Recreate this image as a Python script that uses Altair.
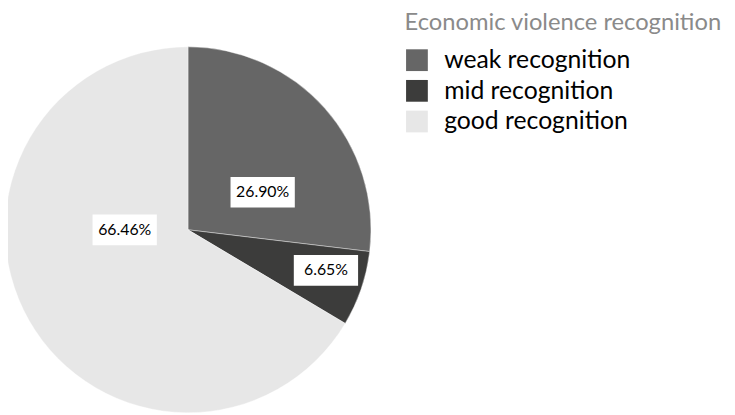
import altair as alt
import pandas as pd

# ---- data ----
categories = ["weak recognition", "mid recognition", "good recognition"]
values = [26.90, 6.65, 66.46]
labels = ["26.90%", "6.65%", "66.46%"]
colors = ["#666666", "#3c3c3b", "#e7e7e7"]

# label placement tweaks (style): radial distance and angular nudge from slice midpoint
label_radius = {"weak recognition": 84.5, "mid recognition": 145.4, "good recognition": 64}
label_dtheta = {"weak recognition": 14.9, "mid recognition": -2.4, "good recognition": 29.6}

df = pd.DataFrame({
    "category": categories,
    "value": values,
    "label": labels,
    "idx": list(range(len(categories))),
})
df["lr"] = df["category"].map(label_radius)
df["dth"] = df["category"].map(label_dtheta)

CX, CY, R = 182, 222, 185
FONT = "Lato"

base = alt.Chart(df)

pie = base.mark_arc(outerRadius=R, stroke="#ffffff", strokeWidth=0.4).encode(
    theta=alt.Theta("value:Q", stack=True),
    order=alt.Order("idx:Q"),
    color=alt.Color(
        "category:N",
        scale=alt.Scale(domain=categories, range=colors),
        sort=categories,
        legend=alt.Legend(
            title="Economic violence recognition",
            orient="none",
            legendX=401,
            legendY=1,
            titleFont=FONT,
            titleFontSize=24,
            titleFontWeight="normal",
            titleColor="#8a8a8a",
            titlePadding=13,
            titleLimit=500,
            labelFont=FONT,
            labelFontSize=25,
            labelColor="#000000",
            labelOffset=15,
            labelLimit=400,
            symbolType="square",
            symbolSize=484,
            symbolStrokeWidth=0,
            symbolOpacity=1,
            rowPadding=5,
            padding=0,
        ),
    ),
    x=alt.value(CX),
    y=alt.value(CY),
)

lab = base.transform_window(
    cum="sum(value)", sort=[alt.SortField("idx")], frame=[None, 0]
).transform_joinaggregate(
    total="sum(value)"
).transform_calculate(
    mid="(datum.cum - datum.value/2)/datum.total*2*PI + datum.dth*PI/180"
).transform_calculate(
    lx=f"{CX} + datum.lr*sin(datum.mid)"
).transform_calculate(
    ly=f"{CY} - datum.lr*cos(datum.mid)"
)

boxes = lab.mark_point(
    shape="M-1,-0.477H1V0.477H-1Z", size=4225, filled=True, fill="#ffffff", opacity=1, strokeWidth=0
).encode(
    x=alt.X("lx:Q", scale=None, axis=None),
    y=alt.Y("ly:Q", scale=None, axis=None),
)

texts = lab.mark_text(font=FONT, fontSize=16, color="#000000", align="center", baseline="middle").encode(
    x=alt.X("lx:Q", scale=None, axis=None),
    y=alt.Y("ly:Q", scale=None, axis=None),
    text="label:N",
)

chart = alt.layer(pie, boxes, texts).properties(
    width=727, height=407, padding=0, autosize=alt.AutoSizeParams(type="none")
).configure_view(stroke=None)

chart.save("out.html", embed_options={"renderer": "svg", "actions": False})
